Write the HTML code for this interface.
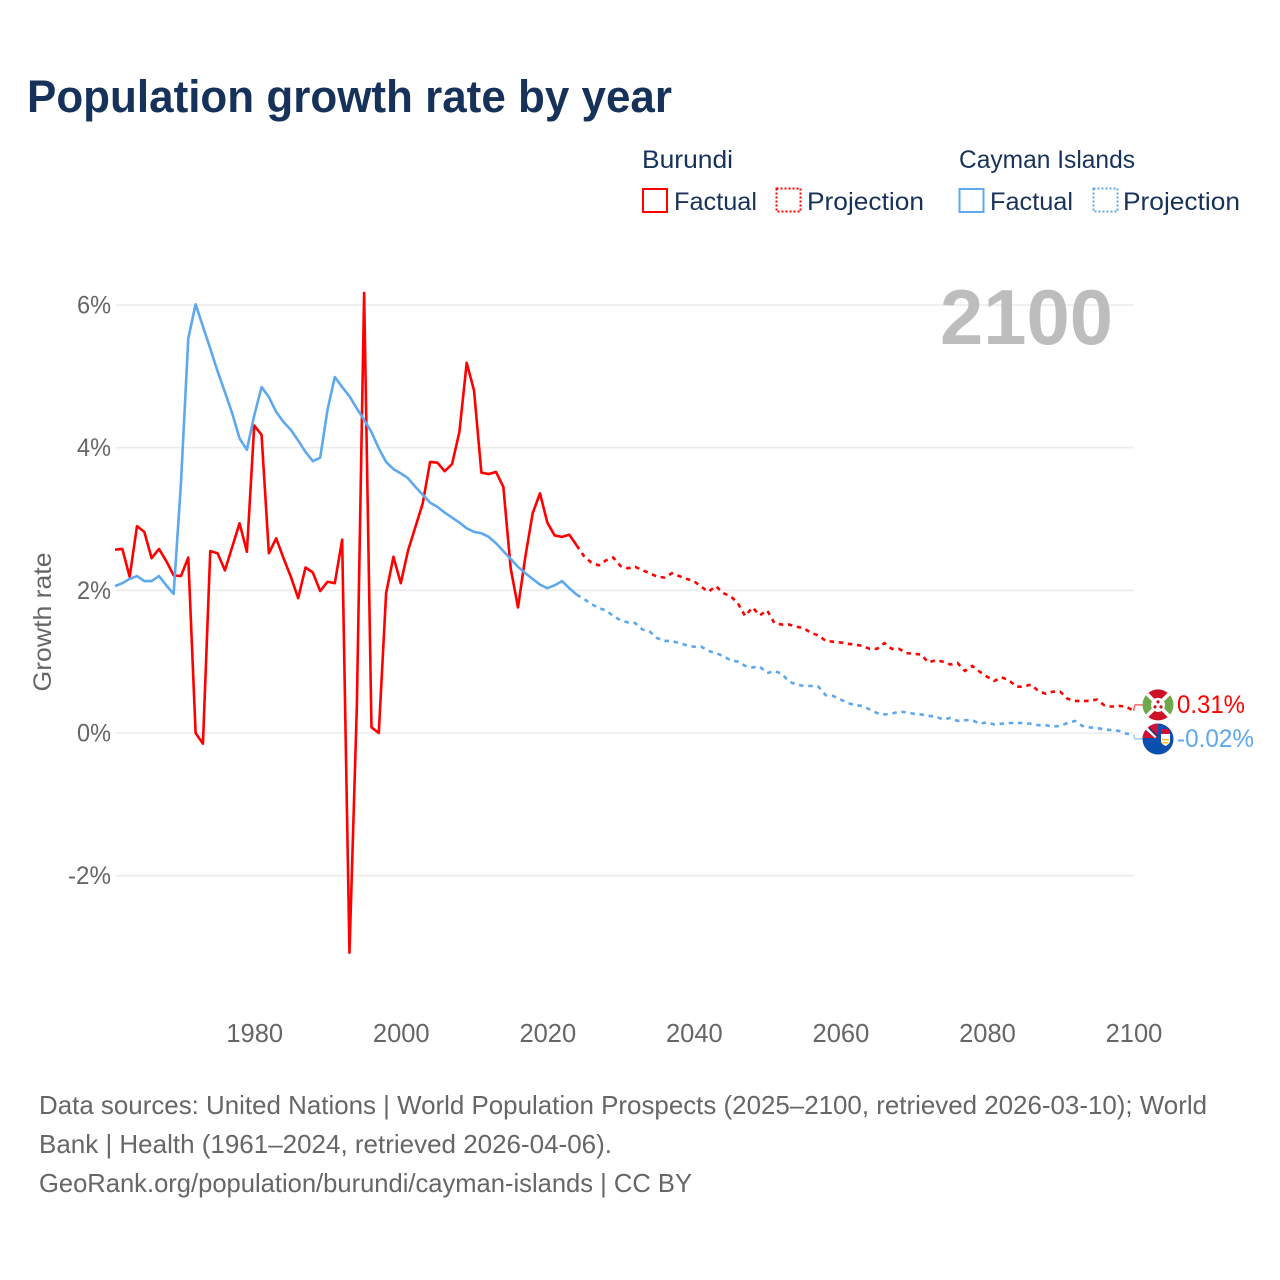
<!DOCTYPE html>
<html lang="en">
<head>
<meta charset="utf-8">
<title>Population growth rate by year</title>
<style>
html,body{margin:0;padding:0;background:#fff;width:1280px;height:1280px;overflow:hidden}
svg{display:block}
text{font-family:"Liberation Sans",sans-serif}
</style>
</head>
<body>
<svg id="chart" xmlns="http://www.w3.org/2000/svg" width="1280" height="1280" viewBox="0 0 1280 1280">
  <defs>
    <clipPath id="clip-flag-a"><circle cx="0" cy="0" r="15.5"/></clipPath>
    <clipPath id="clip-flag-b"><circle cx="0" cy="0" r="15.5"/></clipPath>
  </defs>
  <rect width="1280" height="1280" fill="#fff"/>
  <text x="27" y="112" font-size="45" font-weight="700" fill="#17325a" textLength="645" lengthAdjust="spacingAndGlyphs">Population growth rate by year</text>

  <g font-size="25" fill="#17325a">
    <text x="642" y="168" textLength="91" lengthAdjust="spacingAndGlyphs">Burundi</text>
    <text x="959" y="168" textLength="176" lengthAdjust="spacingAndGlyphs">Cayman Islands</text>
    <rect x="643" y="189" width="24" height="23" fill="none" stroke="#ff0000" stroke-width="2"/>
    <text x="674" y="210" textLength="83" lengthAdjust="spacingAndGlyphs">Factual</text>
    <rect x="776.5" y="188.5" width="24" height="23" fill="none" stroke="#ff0000" stroke-width="2" stroke-dasharray="2 2"/>
    <text x="807" y="210" textLength="117" lengthAdjust="spacingAndGlyphs">Projection</text>
    <rect x="959.5" y="189" width="24" height="23" fill="none" stroke="#5ea8ee" stroke-width="2"/>
    <text x="990" y="210" textLength="83" lengthAdjust="spacingAndGlyphs">Factual</text>
    <rect x="1093.5" y="188.5" width="24" height="23" fill="none" stroke="#5ea8ee" stroke-width="2" stroke-dasharray="2 2"/>
    <text x="1123" y="210" textLength="117" lengthAdjust="spacingAndGlyphs">Projection</text>
  </g>

  <g id="grid"></g>
  <g id="yticks"></g>
  <g id="xticks"></g>
  <text x="0" y="0" transform="translate(51 622) rotate(-90)" text-anchor="middle" font-size="25" fill="#666" textLength="139" lengthAdjust="spacingAndGlyphs">Growth rate</text>
  <text x="1113" y="344" text-anchor="end" font-size="78" font-weight="700" fill="#bdbdbd" textLength="173" lengthAdjust="spacingAndGlyphs">2100</text>

  <g id="series"></g>

  <g id="flag-burundi">
    <g clip-path="url(#clip-flag-a)">
      <rect x="-16" y="-16" width="32" height="32" fill="#fff"/>
      <polygon points="-16,-16 16,-16 0,0" fill="#ce1126"/>
      <polygon points="-16,16 16,16 0,0" fill="#ce1126"/>
      <polygon points="-16,-16 -16,16 0,0" fill="#6fa84a"/>
      <polygon points="16,-16 16,16 0,0" fill="#6fa84a"/>
      <line x1="-16" y1="-16" x2="16" y2="16" stroke="#fff" stroke-width="3.5"/>
      <line x1="16" y1="-16" x2="-16" y2="16" stroke="#fff" stroke-width="3.5"/>
      <circle r="7" fill="#fff"/>
      <circle cx="0" cy="-3" r="1.6" fill="#ce1126"/>
      <circle cx="-3" cy="2" r="1.6" fill="#ce1126"/>
      <circle cx="3" cy="2" r="1.6" fill="#ce1126"/>
    </g>
  </g>
  <g id="flag-cayman">
    <g clip-path="url(#clip-flag-b)">
      <rect x="-16" y="-16" width="32" height="32" fill="#0a4fb0"/>
      <rect x="-16" y="-16" width="16" height="15" fill="#d21034"/>
      <line x1="-13" y1="-12" x2="-2" y2="-2" stroke="#fff" stroke-width="3"/>
      <line x1="-9" y1="-11" x2="-1" y2="-3" stroke="#1a2f6e" stroke-width="1.6"/>
      <rect x="3" y="-10" width="9" height="5" fill="#d21034"/>
      <path d="M3 -5h9v7c0 3-3 4-4.500 5c-1.500-1-4.500-2-4.500-5z" fill="#fff"/>
      <path d="M4 0h7v1.500h-7zM4.500 3h6v1.500h-6z" fill="#f0c020"/>
    </g>
  </g>

  <g id="end-labels"></g>

  <g font-size="26" fill="#666">
    <text x="39" y="1114" textLength="1168" lengthAdjust="spacingAndGlyphs">Data sources: United Nations | World Population Prospects (2025–2100, retrieved 2026-03-10); World</text>
    <text x="39" y="1153" textLength="573" lengthAdjust="spacingAndGlyphs">Bank | Health (1961–2024, retrieved 2026-04-06).</text>
    <text x="39" y="1192" textLength="653" lengthAdjust="spacingAndGlyphs">GeoRank.org/population/burundi/cayman-islands | CC BY</text>
  </g>
</svg>

<script>
var factualStartYear = 1961;
var projectionStartYear = 2025;
var yTickValues = [6, 4, 2, 0, -2];
var xTickYears = [1980, 2000, 2020, 2040, 2060, 2080, 2100];

var burundiFactual = [
  2.57, 2.58, 2.19, 2.90, 2.82, 2.45, 2.58, 2.41, 2.21,
  2.20, 2.46, 0.00, -0.15, 2.55, 2.52, 2.28, 2.61, 2.94, 2.54,
  4.31, 4.18, 2.52, 2.73, 2.45, 2.19, 1.89, 2.32, 2.25, 1.99,
  2.12, 2.10, 2.71, -3.08, 0.35, 6.17, 0.08, 0.00, 1.96, 2.47,
  2.10, 2.56, 2.89, 3.22, 3.80, 3.79, 3.67, 3.77, 4.22, 5.19,
  4.80, 3.65, 3.63, 3.66, 3.45, 2.31, 1.76, 2.47, 3.08, 3.36,
  2.95, 2.77, 2.75, 2.78, 2.63
];
var caymanFactual = [
  2.06, 2.10, 2.16, 2.20, 2.13, 2.13, 2.20, 2.07, 1.95,
  3.50, 5.53, 6.01, 5.70, 5.39, 5.07, 4.78, 4.48, 4.13, 3.97,
  4.45, 4.85, 4.71, 4.50, 4.36, 4.25, 4.10, 3.94, 3.81, 3.86, 4.53,
  4.99, 4.85, 4.72, 4.55, 4.39, 4.22, 3.99, 3.80, 3.70, 3.64,
  3.57, 3.45, 3.34, 3.23, 3.17, 3.09, 3.02, 2.95, 2.87, 2.82,
  2.80, 2.75, 2.66, 2.55, 2.44, 2.33, 2.24, 2.16, 2.08, 2.03,
  2.07, 2.13, 2.03, 1.94
];
var burundiProjection = [
  2.48, 2.39, 2.35, 2.42, 2.46, 2.34, 2.31, 2.33, 2.28, 2.24,
  2.19, 2.18, 2.24, 2.20, 2.16, 2.13, 2.05, 1.98, 2.06, 1.96,
  1.92, 1.82, 1.64, 1.76, 1.65, 1.72, 1.54, 1.52, 1.52, 1.49,
  1.47, 1.40, 1.37, 1.29, 1.28, 1.27, 1.25, 1.24, 1.22, 1.18,
  1.18, 1.26, 1.18, 1.18, 1.12, 1.11, 1.10, 0.99, 1.02, 1.00,
  0.96, 0.98, 0.87, 0.94, 0.86, 0.79, 0.73, 0.78, 0.74, 0.65,
  0.65, 0.68, 0.59, 0.55, 0.58, 0.58, 0.48, 0.45, 0.45, 0.45,
  0.47, 0.39, 0.37, 0.38, 0.37, 0.31
];
var caymanProjection = [
  1.88, 1.81, 1.75, 1.72, 1.64, 1.58, 1.55, 1.54, 1.45, 1.42,
  1.33, 1.29, 1.29, 1.26, 1.23, 1.21, 1.21, 1.15, 1.12, 1.08,
  1.02, 1.00, 0.94, 0.92, 0.93, 0.84, 0.87, 0.83, 0.72, 0.68,
  0.66, 0.66, 0.65, 0.53, 0.52, 0.47, 0.42, 0.39, 0.38, 0.33,
  0.28, 0.26, 0.27, 0.30, 0.29, 0.27, 0.26, 0.24, 0.23, 0.19,
  0.21, 0.17, 0.18, 0.18, 0.13, 0.15, 0.12, 0.13, 0.14, 0.14,
  0.14, 0.13, 0.11, 0.11, 0.09, 0.10, 0.14, 0.17, 0.10, 0.08,
  0.07, 0.05, 0.04, 0.03, -0.01, -0.02
];

function xScale(year) { return 115 + (year - 1961) * (1133.5 - 115) / (2100 - 1961); }
function yScale(v) { return 733 - v * 71.33; }

var svgNS = 'http://www.w3.org/2000/svg';
function make(tag, parentId, attrs) {
  var el = document.createElementNS(svgNS, tag);
  for (var k in attrs) { el.setAttribute(k, attrs[k]); }
  document.getElementById(parentId).appendChild(el);
  return el;
}
function pointsFrom(values, startYear) {
  return values.map(function (v, i) { return xScale(startYear + i).toFixed(2) + ',' + yScale(v).toFixed(2); }).join(' ');
}

yTickValues.forEach(function (v) {
  var line = make('line', 'grid', { x1: 116, x2: 1133.5, y1: yScale(v), y2: yScale(v), stroke: '#ececec', 'stroke-width': 1.6 });
  
  
  var text = v + '%';
  var label = make('text', 'yticks', { x: 111, y: yScale(v) + 8.5, 'text-anchor': 'end', 'font-size': 25, fill: '#666', textLength: text.length === 2 ? 34 : 43, lengthAdjust: 'spacingAndGlyphs' });
  
  
  label.textContent = text;
});

xTickYears.forEach(function (year) {
  var label = make('text', 'xticks', { x: xScale(year) + 0.5, y: 1042, 'text-anchor': 'middle', 'font-size': 25.5, fill: '#666' });
  
  
  label.textContent = year;
});

function drawSeries(name, color, factual, projection, labelDodge, flagId, textWidth) {
  var lastFactual = factual[factual.length - 1];
  var lastValue = projection[projection.length - 1];
  var solid = make('polyline', 'series', { points: pointsFrom(factual, factualStartYear), fill: 'none', stroke: color, 'stroke-width': 2.6, 'stroke-linejoin': 'round' });
  
  
  var dashed = make('polyline', 'series', { points: pointsFrom([lastFactual].concat(projection), projectionStartYear - 1), fill: 'none', stroke: color, 'stroke-width': 2.6, 'stroke-dasharray': '4.5 4.7' });
  
  
  var endX = xScale(2100);
  var endY = yScale(lastValue);
  var labelY = endY + labelDodge;
  var leader = make('polyline', 'series', { points: endX + ',' + endY + ' ' + (endX + 1.5) + ',' + labelY + ' ' + (endX + 9) + ',' + labelY, fill: 'none', stroke: color, 'stroke-width': 1.5, opacity: 0.6 });
  
  
  document.getElementById(flagId).setAttribute('transform', 'translate(1158 ' + labelY + ')');
  var label = make('text', 'end-labels', { x: 1177, y: labelY + 8, 'font-size': 25, fill: color, textLength: textWidth, lengthAdjust: 'spacingAndGlyphs' });
  
  
  label.textContent = lastValue.toFixed(2) + '%';
}

drawSeries('burundi', '#ff0000', burundiFactual, burundiProjection, -6, 'flag-burundi', 68);
drawSeries('cayman-islands', '#5ea8ee', caymanFactual, caymanProjection, 4.6, 'flag-cayman', 77);
</script>
</body>
</html>
